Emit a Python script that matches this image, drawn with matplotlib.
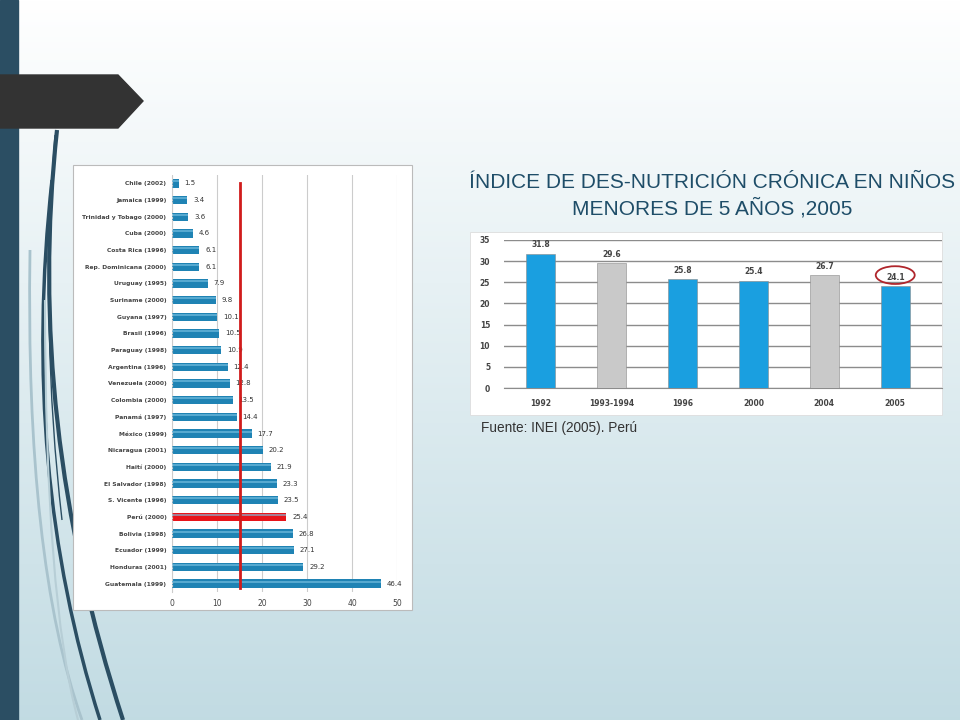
import numpy as np
import matplotlib
matplotlib.use('Agg')
import matplotlib.pyplot as plt
from matplotlib.patches import Polygon, Rectangle, Ellipse, PathPatch
from matplotlib.path import Path

# left chart data
countries = ['Chile (2002)', 'Jamaica (1999)', 'Trinidad y Tobago (2000)', 'Cuba (2000)',
             'Costa Rica (1996)', 'Rep. Dominicana (2000)', 'Uruguay (1995)', 'Suriname (2000)',
             'Guyana (1997)', 'Brasil (1996)', 'Paraguay (1998)', 'Argentina (1996)',
             'Venezuela (2000)', 'Colombia (2000)', 'Panamá (1997)', 'México (1999)',
             'Nicaragua (2001)', 'Haití (2000)', 'El Salvador (1998)', 'S. Vicente (1996)',
             'Perú (2000)', 'Bolivia (1998)', 'Ecuador (1999)', 'Honduras (2001)',
             'Guatemala (1999)']
values = [1.5, 3.4, 3.6, 4.6, 6.1, 6.1, 7.9, 9.8, 10.1, 10.5, 10.9, 12.4, 12.8, 13.5,
          14.4, 17.7, 20.2, 21.9, 23.3, 23.5, 25.4, 26.8, 27.1, 29.2, 46.4]
highlight = 'Perú (2000)'
ref_line = 15

# right chart data
years = ['1992', '1993-1994', '1996', '2000', '2004', '2005']
peru = [31.8, 29.6, 25.8, 25.4, 26.7, 24.1]
gray_years = ['1993-1994', '2004']

W, H = 960, 720
fig = plt.figure(figsize=(9.6, 7.2), dpi=100)


def box(x0, y0, x1, y1):
    # pixel box (top-left origin) -> figure fraction rect
    return [x0 / W, 1 - y1 / H, (x1 - x0) / W, (y1 - y0) / H]


# background layer
bg = fig.add_axes([0, 0, 1, 1])
bg.set_xlim(0, W)
bg.set_ylim(H, 0)
bg.axis('off')
top = np.array([1.0, 1.0, 1.0])
bot = np.array([0.76, 0.86, 0.89])
t = np.linspace(0, 1, 256)[:, None]
grad = top * (1 - t) + bot * t
bg.imshow(grad[:, None, :].repeat(2, axis=1), extent=[0, W, H, 0], aspect='auto', zorder=0)
bg.add_patch(Rectangle((0, 0), 18, H, color='#2b4e63', zorder=1))
bg.add_patch(Polygon([(0, 75), (118, 75), (143, 101), (118, 128), (0, 128)],
                     closed=True, color='#333333', zorder=2))

# decorative curves
curves = [
    ([(57, 130), (25, 420), (123, 720)], '#2b4e63', 3.0),
    ([(52, 180), (20, 470), (100, 720)], '#2b4e63', 2.5),
    ([(55, 135), (40, 330), (62, 520)], '#2b4e63', 1.0),
    ([(30, 250), (25, 560), (82, 720)], '#a9c3cd', 2.0),
    ([(45, 300), (45, 600), (78, 720)], '#b7ced6', 1.5),
]
for pts, col, lw in curves:
    path = Path(pts, [Path.MOVETO, Path.CURVE3, Path.CURVE3])
    bg.add_patch(PathPatch(path, fill=False, edgecolor=col, lw=lw, zorder=1))

# panels
bg.add_patch(Rectangle((73, 165), 339, 445, facecolor='white', edgecolor='#bbbbbb', lw=0.8, zorder=3))
bg.add_patch(Rectangle((470, 232), 472, 183, facecolor='white', edgecolor='#dddddd', lw=0.6, zorder=3))

# title and source
bg.text(712, 182, 'ÍNDICE DE DES-NUTRICIÓN CRÓNICA EN NIÑOS', ha='center', va='center',
        fontsize=15, color='#1e4d68', family='Liberation Sans', zorder=4)
bg.text(712, 208, 'MENORES DE 5 AÑOS ,2005', ha='center', va='center',
        fontsize=15, color='#1e4d68', family='Liberation Sans', zorder=4)
bg.text(481, 428, 'Fuente: INEI (2005). Perú', ha='left', va='center',
        fontsize=9.8, color='#333333', family='Liberation Sans', zorder=4)

# left chart
ax1 = fig.add_axes(box(172, 175, 397, 592))
ax1.set_zorder(5)
ax1.patch.set_alpha(0)
ypos = np.arange(len(countries))
colors = ['#e8141a' if c == highlight else '#1f83b4' for c in countries]
ax1.barh(ypos, values, height=0.5, color=colors, zorder=2)
ax1.barh(ypos - 0.12, values, height=0.12, color='#7cc3e3', zorder=3, alpha=0.6)
for y, v in zip(ypos, values):
    ax1.text(v + 1.3, y, f'{v}', va='center', ha='left', fontsize=5, color='#333333', zorder=4)
ax1.axvline(ref_line, ymin=0.01, ymax=0.98, color='#d01c1c', lw=2, zorder=5)
ax1.set_xlim(0, 50)
ax1.set_ylim(24.5, -0.5)
ax1.set_xticks(range(0, 51, 10))
ax1.set_yticks(ypos)
ax1.set_yticklabels(countries, fontsize=4.3, color='#444444', fontweight='bold')
ax1.tick_params(axis='x', labelsize=5.5, colors='#444444', length=0, pad=5)
ax1.tick_params(axis='y', length=0, pad=4)
ax1.grid(axis='x', color='#cccccc', lw=0.8, zorder=0)
for s in ['top', 'right', 'bottom']:
    ax1.spines[s].set_visible(False)
ax1.spines['left'].set_color('#cccccc')
ax1.spines['left'].set_linestyle(':')

# right chart
ax2 = fig.add_axes(box(504, 240, 942, 388))
ax2.set_zorder(5)
ax2.patch.set_alpha(0)
xpos = np.arange(len(years))
bcol = ['#c9c9c9' if y in gray_years else '#1a9fe0' for y in years]
ax2.bar(xpos, peru, width=0.41, color=bcol, edgecolor='#8a8a8a', lw=0.4, zorder=3)
for x, v in zip(xpos, peru):
    ax2.text(x, v + 1.0, f'{v}', ha='center', va='bottom', fontsize=5.5,
             color='#444444', fontweight='bold', zorder=4)
ax2.add_patch(Ellipse((5, peru[5] + 2.6), 0.55, 4.2, fill=False, edgecolor='#b0262c', lw=1.3, zorder=5))
ax2.set_xlim(-0.52, 5.66)
ax2.set_ylim(0, 35)
ax2.set_yticks(range(0, 36, 5))
ax2.set_xticks(xpos)
ax2.set_xticklabels(years)
ax2.tick_params(axis='y', labelsize=5.5, colors='#444444', length=0, pad=10)
ax2.tick_params(axis='x', labelsize=5.5, colors='#444444', length=0, pad=8)
for lbl in ax2.get_xticklabels() + ax2.get_yticklabels():
    lbl.set_fontweight('bold')
ax2.grid(axis='y', color='#8c8c8c', lw=1.0, zorder=0)
for s in ['top', 'right', 'left']:
    ax2.spines[s].set_visible(False)
ax2.spines['bottom'].set_color('#8c8c8c')

fig.savefig('out.png', dpi=100)
